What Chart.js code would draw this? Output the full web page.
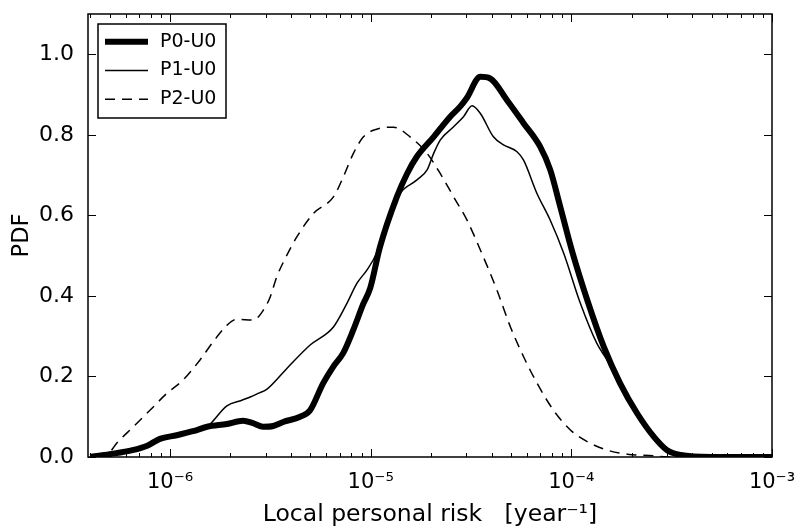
<!DOCTYPE html>
<html>
<head>
<meta charset="utf-8">
<script src="https://cdn.jsdelivr.net/npm/chart.js@4.4.1/dist/chart.umd.min.js"></script>
<style>
    html, body { margin: 0; padding: 0; background: #fff; }
    #wrap { width: 798px; height: 532px; }
</style>
</head>
<body>
<div id="wrap"><canvas id="riskChart" width="798" height="532"></canvas></div>
<script>
// ========================================
// DADOS
// ========================================

const seriesLabels = ['P0-U0', 'P1-U0', 'P2-U0'];

// P0-U0 (linha grossa)
const p0Risk = [4.0e-7, 5.0e-7, 6.5e-7, 7.7e-7, 8.9e-7, 1.08e-6, 1.30e-6, 1.53e-6, 1.92e-6, 2.31e-6,
    2.59e-6, 2.91e-6, 3.27e-6, 3.66e-6, 4.45e-6, 4.99e-6, 5.79e-6, 6.50e-6, 7.29e-6, 8.18e-6,
    9.18e-6, 9.95e-6, 1.11e-5, 1.35e-5, 1.52e-5, 1.70e-5, 2.06e-5, 2.49e-5, 2.79e-5, 3.0e-5,
    3.52e-5, 3.94e-5, 4.78e-5, 5.78e-5, 7.00e-5, 7.85e-5, 8.81e-5, 1.01e-4, 1.20e-4, 1.45e-4,
    1.75e-4, 2.13e-4, 2.58e-4, 3.00e-4, 3.50e-4, 5.0e-4, 1.0e-3];
const p0Pdf = [0, 0.007, 0.017, 0.028, 0.045, 0.054, 0.064, 0.075, 0.082, 0.09,
    0.084, 0.075, 0.077, 0.087, 0.10, 0.116, 0.183, 0.224, 0.258, 0.315,
    0.38, 0.42, 0.52, 0.646, 0.704, 0.746, 0.795, 0.845, 0.87, 0.89,
    0.944, 0.94, 0.886, 0.829, 0.77, 0.713, 0.621, 0.51, 0.39, 0.274,
    0.183, 0.108, 0.05, 0.017, 0.005, 0, 0];

// P1-U0 (linha fina)
const p1Risk = [4.0e-7, 5.0e-7, 6.5e-7, 7.7e-7, 8.9e-7, 1.08e-6, 1.30e-6, 1.53e-6, 1.92e-6, 2.28e-6,
    2.51e-6, 2.75e-6, 3.03e-6, 3.82e-6, 4.99e-6, 6.52e-6, 7.60e-6, 8.53e-6, 9.57e-6, 1.07e-5,
    1.25e-5, 1.40e-5, 1.70e-5, 1.91e-5, 2.06e-5, 2.22e-5, 2.59e-5, 2.90e-5, 3.20e-5, 3.52e-5,
    4.09e-5, 4.59e-5, 5.36e-5, 5.78e-5, 6.73e-5, 7.85e-5, 9.16e-5, 1.11e-4, 1.34e-4, 1.51e-4,
    1.75e-4, 2.13e-4, 2.58e-4, 3.00e-4, 3.50e-4, 5.0e-4, 1.0e-3];
const p1Pdf = [0, 0.006, 0.015, 0.026, 0.042, 0.052, 0.063, 0.075, 0.127, 0.141,
    0.149, 0.158, 0.168, 0.22, 0.278, 0.323, 0.381, 0.431, 0.464, 0.506,
    0.605, 0.655, 0.688, 0.713, 0.754, 0.787, 0.82, 0.845, 0.872, 0.853,
    0.795, 0.775, 0.758, 0.737, 0.655, 0.588, 0.506, 0.381, 0.282, 0.24,
    0.175, 0.105, 0.048, 0.016, 0.005, 0, 0];

// P2-U0 (tracejada)
const p2Risk = [4.3e-7, 5.0e-7, 5.42e-7, 6.56e-7, 7.94e-7, 9.64e-7, 1.16e-6, 1.41e-6, 1.64e-6, 1.92e-6,
    2.15e-6, 2.60e-6, 2.92e-6, 3.16e-6, 3.40e-6, 3.75e-6, 4.29e-6, 5.19e-6, 6.52e-6, 7.31e-6,
    8.20e-6, 9.20e-6, 1.07e-5, 1.30e-5, 1.57e-5, 1.91e-5, 2.22e-5, 2.59e-5, 3.02e-5, 3.52e-5,
    4.26e-5, 4.97e-5, 5.78e-5, 6.75e-5, 8.15e-5, 9.89e-5, 1.20e-4, 1.51e-4, 1.90e-4, 2.58e-4,
    3.0e-4, 1.0e-3];
const p2Pdf = [0, 0.012, 0.034, 0.075, 0.116, 0.158, 0.191, 0.241, 0.286, 0.327,
    0.342, 0.34, 0.365, 0.398, 0.447, 0.493, 0.547, 0.605, 0.646, 0.696,
    0.754, 0.795, 0.814, 0.819, 0.795, 0.754, 0.704, 0.646, 0.588, 0.514,
    0.414, 0.323, 0.249, 0.183, 0.116, 0.067, 0.038, 0.017, 0.007, 0.003,
    0, 0];

// Eixos
const xTickValues = [1e-6, 1e-5, 1e-4, 1e-3];
const xTickLabels = ['10\u207B\u2076', '10\u207B\u2075', '10\u207B\u2074', '10\u207B\u00B3'];
const yTickValues = [0, 0.2, 0.4, 0.6, 0.8, 1.0];
const yTickLabels = ['0.0', '0.2', '0.4', '0.6', '0.8', '1.0'];

const FONT = 'DejaVu Sans';

function toPoints(xs, ys) {
    return xs.map((x, i) => ({ x: x, y: ys[i] }));
}

// Moldura, marcas internas e legenda (estilo matplotlib)
const frameAndLegend = {
    id: 'frameAndLegend',
    afterDatasetsDraw(chart) {
        const { ctx, chartArea: a, scales: { x, y } } = chart;
        ctx.save();
        ctx.strokeStyle = '#000';
        ctx.lineWidth = 1;

        // marcas do eixo x (topo e base)
        for (let e = -7; e <= -3; e++) {
            for (let m = 1; m <= 9; m++) {
                const v = m * Math.pow(10, e);
                if (v < x.min || v > x.max) continue;
                const px = Math.round(x.getPixelForValue(v)) + 0.5;
                const len = m === 1 ? 8 : 4;
                ctx.beginPath();
                ctx.moveTo(px, a.bottom); ctx.lineTo(px, a.bottom - len);
                ctx.moveTo(px, a.top); ctx.lineTo(px, a.top + len);
                ctx.stroke();
            }
        }

        // marcas do eixo y (esquerda e direita)
        yTickValues.forEach(v => {
            const py = Math.round(y.getPixelForValue(v)) + 0.5;
            ctx.beginPath();
            ctx.moveTo(a.left, py); ctx.lineTo(a.left + 8, py);
            ctx.moveTo(a.right, py); ctx.lineTo(a.right - 8, py);
            ctx.stroke();
        });

        ctx.lineWidth = 1.5;
        ctx.strokeRect(a.left, a.top, a.right - a.left, a.bottom - a.top);

        // legenda
        const bx = a.left + 10, by = a.top + 10, bw = 128, bh = 94;
        ctx.fillStyle = '#fff';
        ctx.fillRect(bx, by, bw, bh);
        ctx.lineWidth = 1.5;
        ctx.strokeRect(bx, by, bw, bh);

        chart.data.datasets.forEach((ds, i) => {
            const ly = by + 17.7 + i * 28.8;
            ctx.beginPath();
            ctx.lineWidth = ds.borderWidth;
            ctx.setLineDash(ds.borderDash || []);
            ctx.moveTo(bx + 7, ly);
            ctx.lineTo(bx + 50, ly);
            ctx.stroke();
            ctx.setLineDash([]);
            ctx.fillStyle = '#000';
            ctx.font = '19px "' + FONT + '"';
            ctx.textBaseline = 'middle';
            ctx.textAlign = 'left';
            ctx.fillText(ds.label, bx + 62, ly);
        });
        ctx.restore();
    }
};

document.addEventListener('DOMContentLoaded', function() {
    const ctx = document.getElementById('riskChart');

    new Chart(ctx, {
        type: 'line',
        data: {
            datasets: [{
                label: seriesLabels[0],
                data: toPoints(p0Risk, p0Pdf),
                borderColor: '#000',
                borderWidth: 6,
                pointRadius: 0,
                fill: false,
                cubicInterpolationMode: 'monotone',
                borderJoinStyle: 'round'
            }, {
                label: seriesLabels[1],
                data: toPoints(p1Risk, p1Pdf),
                borderColor: '#000',
                borderWidth: 1.5,
                pointRadius: 0,
                fill: false,
                cubicInterpolationMode: 'monotone'
            }, {
                label: seriesLabels[2],
                data: toPoints(p2Risk, p2Pdf),
                borderColor: '#000',
                borderWidth: 1.5,
                borderDash: [10, 7],
                pointRadius: 0,
                fill: false,
                cubicInterpolationMode: 'monotone'
            }]
        },
        options: {
            responsive: false,
            animation: false,
            layout: {
                padding: { left: 0, top: 14, right: 26, bottom: 0 }
            },
            plugins: {
                legend: { display: false },
                tooltip: { enabled: false }
            },
            scales: {
                x: {
                    type: 'logarithmic',
                    min: 3.9e-7,
                    max: 1e-3,
                    afterBuildTicks: s => { s.ticks = xTickValues.map(v => ({ value: v })); },
                    afterFit: s => {
                        s.height = 75;
                        s.paddingLeft = 0;
                        s.paddingRight = 0;
                    },
                    grid: { display: false },
                    border: { display: false },
                    ticks: {
                        autoSkip: false,
                        maxRotation: 0,
                        padding: 5,
                        color: '#000',
                        font: { family: FONT, size: 21 },
                        callback: (v, i) => xTickLabels[i]
                    },
                    title: {
                        display: true,
                        text: 'Local personal risk   [year\u207B\u00B9]',
                        color: '#000',
                        font: { family: FONT, size: 23.5 },
                        padding: { top: 0, bottom: 3 }
                    }
                },
                y: {
                    min: 0,
                    max: 1.1,
                    afterBuildTicks: s => { s.ticks = yTickValues.map(v => ({ value: v })); },
                    afterFit: s => {
                        s.width = 88;
                        s.paddingTop = 0;
                        s.paddingBottom = 0;
                    },
                    grid: { display: false },
                    border: { display: false },
                    ticks: {
                        padding: 6,
                        color: '#000',
                        font: { family: FONT, size: 22 },
                        callback: (v, i) => yTickLabels[i]
                    },
                    title: {
                        display: true,
                        text: 'PDF',
                        color: '#000',
                        font: { family: FONT, size: 22.5 },
                        padding: { top: 9, bottom: 0 }
                    }
                }
            }
        },
        plugins: [frameAndLegend]
    });
});
</script>
</body>
</html>
